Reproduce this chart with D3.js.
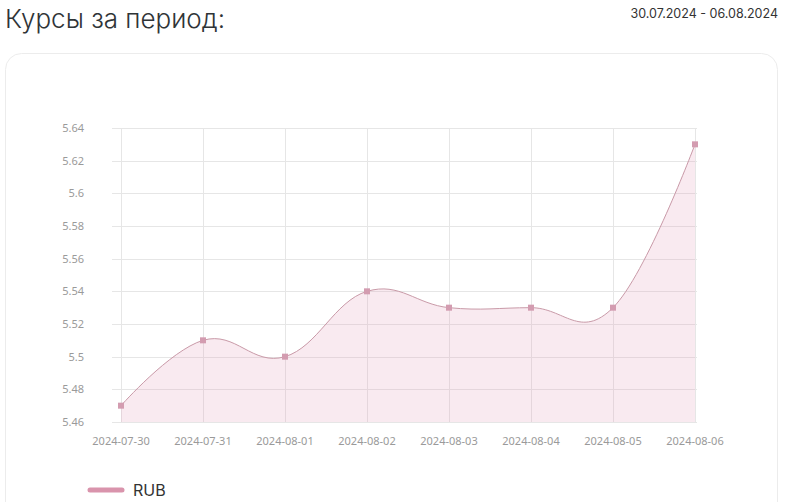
<!DOCTYPE html>
<html>
<head>
<meta charset="utf-8">
<script src="https://cdn.jsdelivr.net/npm/d3@7"></script>
<style>
  body { margin: 0; background: #fff; }
  svg { display: block; }
</style>
</head>
<body>
<svg width="800" height="502"></svg>
<script>
var dates = ["2024-07-30", "2024-07-31", "2024-08-01", "2024-08-02", "2024-08-03", "2024-08-04", "2024-08-05", "2024-08-06"];
var rub = [5.47, 5.51, 5.50, 5.54, 5.53, 5.53, 5.53, 5.63];
var yTicks = [5.46, 5.48, 5.50, 5.52, 5.54, 5.56, 5.58, 5.60, 5.62, 5.64];

var svg = d3.select("svg");

// title + period
svg.append("text")
  .attr("x", 5).attr("y", 28)
  .style("font-family", "Inter, 'Noto Sans', sans-serif")
  .style("font-size", "26px")
  .style("font-weight", 300)
  .style("fill", "#2f3437")
  .text("Курсы за период:");

svg.append("text")
  .attr("x", 778).attr("y", 18)
  .style("text-anchor", "end")
  .style("font-family", "Inter, 'Noto Sans', sans-serif")
  .style("font-size", "12.5px")
  .style("fill", "#333")
  .text("30.07.2024 - 06.08.2024");

// card
svg.append("rect")
  .attr("x", 5.5).attr("y", 53.5)
  .attr("width", 772).attr("height", 480)
  .attr("rx", 16)
  .attr("fill", "#fff")
  .attr("stroke", "#ececec");

var margin = {left: 121, top: 128},
  width = 574, height = 294;

var x = d3.scalePoint().domain(dates).range([0, width]);
var y = d3.scaleLinear().domain([5.46, 5.64]).range([height, 0]);

var g = svg.append("g")
  .attr("transform", "translate(" + margin.left + "," + margin.top + ")");

// grid
g.selectAll(".hgrid")
  .data(yTicks)
  .enter().append("line")
  .attr("x1", -9).attr("x2", width + 2)
  .attr("y1", function(d) { return Math.round(y(d)) + 0.5; })
  .attr("y2", function(d) { return Math.round(y(d)) + 0.5; })
  .attr("stroke", "#e6e6e6");

g.selectAll(".vgrid")
  .data(dates)
  .enter().append("line")
  .attr("x1", function(d) { return Math.round(x(d)) + 0.5; })
  .attr("x2", function(d) { return Math.round(x(d)) + 0.5; })
  .attr("y1", 0).attr("y2", height + 1)
  .attr("stroke", "#e6e6e6");

// axis labels
g.selectAll(".ylab")
  .data(yTicks)
  .enter().append("text")
  .attr("x", -37)
  .attr("y", function(d) { return y(d) + 4; })
  .style("text-anchor", "end")
  .style("font-family", "'Noto Sans', sans-serif")
  .style("font-size", "11px")
  .style("fill", "#9a9a9a")
  .text(function(d) { return +d.toFixed(2); });

g.selectAll(".xlab")
  .data(dates)
  .enter().append("text")
  .attr("x", function(d) { return x(d); })
  .attr("y", height + 23)
  .style("text-anchor", "middle")
  .style("font-family", "'Noto Sans', sans-serif")
  .style("font-size", "11px")
  .style("fill", "#9a9a9a")
  .text(function(d) { return d; });

var curve = d3.curveCardinal.tension(-0.2);

var area = d3.area()
  .x(function(d, i) { return x(dates[i]); })
  .y0(height)
  .y1(function(d) { return y(d); })
  .curve(curve);

var line = d3.line()
  .x(function(d, i) { return x(dates[i]); })
  .y(function(d) { return y(d); })
  .curve(curve);

g.append("path")
  .datum(rub)
  .attr("fill", "rgba(225, 150, 178, 0.2)")
  .attr("d", area);

g.append("path")
  .datum(rub)
  .attr("fill", "none")
  .attr("stroke", "#c99aa8")
  .attr("stroke-width", 1)
  .attr("d", line);

g.selectAll(".pt")
  .data(rub)
  .enter().append("rect")
  .attr("x", function(d, i) { return x(dates[i]) - 3; })
  .attr("y", function(d) { return y(d) - 3; })
  .attr("width", 6).attr("height", 6)
  .attr("fill", "#d39cb0");

// legend
svg.append("line")
  .attr("x1", 90).attr("x2", 122)
  .attr("y1", 490).attr("y2", 490)
  .attr("stroke", "#d994ac")
  .attr("stroke-width", 5)
  .attr("stroke-linecap", "round");

svg.append("text")
  .attr("x", 133).attr("y", 496)
  .style("font-family", "Inter, 'Noto Sans', sans-serif")
  .style("font-size", "16px")
  .style("fill", "#333")
  .text("RUB");
</script>
</body>
</html>
